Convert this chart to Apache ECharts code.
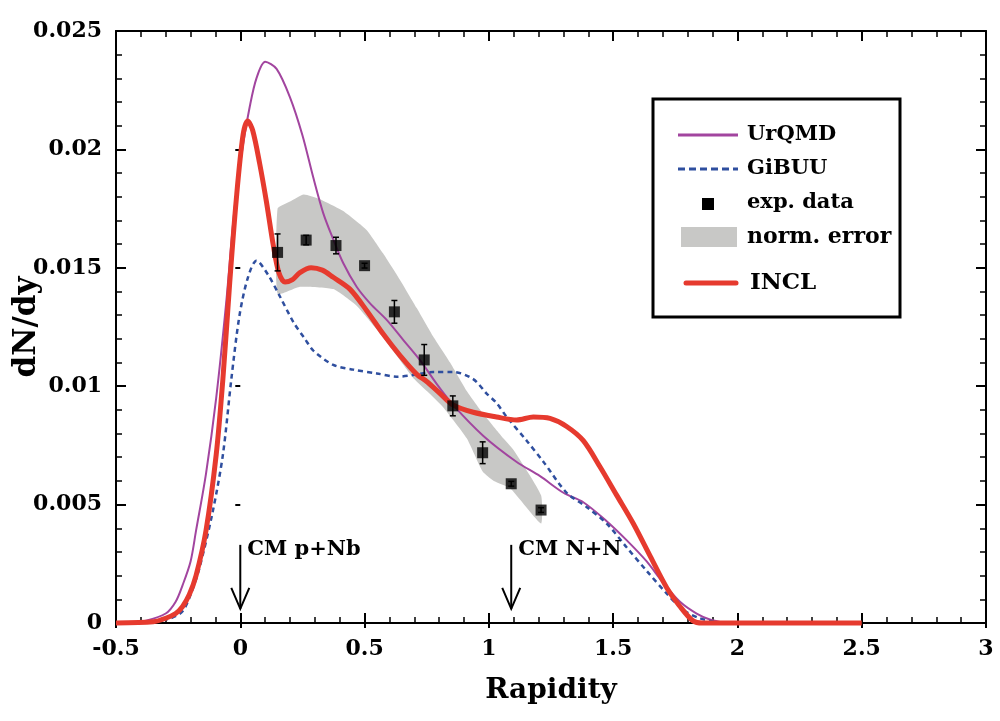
<!DOCTYPE html>
<html>
<head>
<meta charset="utf-8">
<script src="https://cdn.jsdelivr.net/npm/echarts@6.0.0/dist/echarts.min.js"></script>
<style>
html,body{margin:0;padding:0;background:#fff;}
#chart{width:1000px;height:721px;}
</style>
</head>
<body>
<div id="chart"></div>
<script>
// ---------------- data ----------------
const xTicks = [-0.5, 0, 0.5, 1, 1.5, 2, 2.5, 3];
const yTicks = [0, 0.005, 0.01, 0.015, 0.02, 0.025];

const urqmdX = [-0.45,-0.38,-0.3,-0.26,-0.232,-0.2,-0.178,-0.138,-0.097,-0.057,-0.023,0.011,0.038,0.065,0.1,0.146,0.2,0.25,0.294,0.334,0.374,0.414,0.468,0.522,0.589,0.656,0.723,0.79,0.857,0.978,1.112,1.206,1.3,1.38,1.474,1.554,1.635,1.701,1.769,1.836,1.889,1.95];
const urqmdY = [0,0.0001,0.0004,0.0009,0.0016,0.0026,0.0039,0.0063,0.0095,0.0135,0.0175,0.0202,0.0218,0.0230,0.0237,0.0234,0.0222,0.0206,0.0188,0.0173,0.0162,0.0152,0.0142,0.0135,0.0128,0.01195,0.0111,0.0101,0.0092,0.0079,0.0068,0.0062,0.0055,0.0051,0.0043,0.0035,0.0026,0.0017,0.0009,0.0004,0.00015,0];

const gibuuX = [-0.42,-0.34,-0.28,-0.232,-0.2,-0.165,-0.111,-0.07,-0.036,-0.003,0.031,0.065,0.112,0.159,0.214,0.26,0.294,0.374,0.455,0.549,0.629,0.696,0.776,0.857,0.937,0.99,1.03,1.072,1.152,1.22,1.313,1.393,1.474,1.554,1.635,1.715,1.782,1.849,1.93];
const gibuuY = [0,0.0001,0.0002,0.0005,0.0012,0.0023,0.0047,0.0071,0.0103,0.0130,0.0146,0.0153,0.0147,0.0138,0.0127,0.0120,0.0115,0.0109,0.0107,0.01054,0.0104,0.01047,0.0106,0.0106,0.0103,0.0097,0.0093,0.0087,0.0077,0.0068,0.0055,0.0049,0.0042,0.0032,0.0022,0.00125,0.00055,0.0002,0];

const inclX = [-0.5,-0.35,-0.3,-0.26,-0.232,-0.205,-0.178,-0.138,-0.097,-0.07,-0.043,-0.016,0.011,0.03,0.05,0.078,0.105,0.132,0.155,0.18,0.21,0.24,0.285,0.33,0.374,0.441,0.508,0.575,0.642,0.71,0.75,0.803,0.857,0.937,1.031,1.112,1.179,1.246,1.313,1.38,1.447,1.514,1.581,1.65,1.715,1.769,1.82,1.86,2.5];
const inclY = [0,0.00005,0.0002,0.0004,0.0007,0.0012,0.0020,0.0039,0.0071,0.0103,0.0143,0.0179,0.0206,0.0212,0.0208,0.0194,0.0178,0.0160,0.0148,0.0144,0.0145,0.0148,0.0150,0.0149,0.0146,0.0141,0.0132,0.0122,0.0113,0.0105,0.0102,0.0097,0.0092,0.0089,0.0087,0.00857,0.0087,0.00864,0.0083,0.0077,0.0066,0.0054,0.0042,0.0028,0.0015,0.0007,0.0001,0,0];

const expX = [0.15,0.265,0.385,0.50,0.62,0.74,0.855,0.975,1.09,1.21];
const expY = [0.01565,0.01617,0.01594,0.01509,0.01314,0.01111,0.00917,0.00719,0.00588,0.00477];
const expErr = [0.00078,0.0002,0.00035,0.0001,0.00048,0.00065,0.00042,0.00046,0.0001,0.0001];

const bandTopX = [0.15,0.2,0.255,0.32,0.414,0.508,0.575,0.642,0.71,0.776,0.844,0.911,0.98,1.05,1.1,1.21];
const bandTopY = [0.0175,0.0178,0.0181,0.0179,0.0174,0.0166,0.0156,0.0145,0.0133,0.0121,0.0110,0.0098,0.0088,0.0079,0.0073,0.0054];
const bandBotX = [0.15,0.24,0.374,0.468,0.549,0.629,0.7,0.76,0.817,0.911,0.975,1.02,1.085,1.21];
const bandBotY = [0.0139,0.0142,0.0141,0.0134,0.0124,0.0113,0.0103,0.0097,0.0091,0.0078,0.0064,0.0060,0.0057,0.0042];

const arrowX = [0, 1.09];
const arrowTopY = [0.0033, 0.0033];
const arrowTipY = [0.0006, 0.0006];
const arrowLabels = ['CM p+Nb', 'CM N+N'];

const legendNames = ['UrQMD', 'GiBUU', 'exp. data', 'norm. error', 'INCL'];

// ---------------- styles ----------------
const FONT = '"DejaVu Serif", "Liberation Serif", serif';
const C_RED = '#e63a2e', C_PUR = '#a2459f', C_BLU = '#2f4f9f', C_BAND = '#c8c8c6';

const zip = (a, b) => a.map((v, i) => [v, b[i]]);
const chart = echarts.init(document.getElementById('chart'), null, {renderer: 'canvas'});

function axisBase(pos, showLabel) {
  return {
    type: 'value', position: pos,
    axisLine: {show: true, onZero: false, lineStyle: {color: '#000', width: 2}},
    axisTick: {show: true, inside: true, length: 10, lineStyle: {color: '#000', width: 2}},
    minorTick: {show: true, splitNumber: 5, length: 6, lineStyle: {color: '#000', width: 1.5}},
    splitLine: {show: false}, minorSplitLine: {show: false},
    axisLabel: {show: showLabel, color: '#000', fontFamily: FONT, fontWeight: 'bold', fontSize: 22}
  };
}
function outerTicks(pos) {
  return {
    type: 'value', position: pos,
    axisLine: {show: false},
    axisTick: {show: true, inside: false, length: 5, lineStyle: {color: '#000', width: 2}},
    splitLine: {show: false}, axisLabel: {show: false}
  };
}
const xr = {min: xTicks[0], max: xTicks[xTicks.length - 1], interval: xTicks[1] - xTicks[0]};
const yr = {min: yTicks[0], max: yTicks[yTicks.length - 1], interval: yTicks[1] - yTicks[0]};

const xMain = Object.assign(axisBase('bottom', true), xr, {
  name: 'Rapidity', nameLocation: 'middle', nameGap: 54, nameMoveOverlap: false,
  nameTextStyle: {color: '#000', fontFamily: FONT, fontWeight: 'bold', fontSize: 28}
});
xMain.axisLabel.margin = 15;
const yMain = Object.assign(axisBase('left', true), yr, {
  name: 'dN/dy', nameLocation: 'middle', nameGap: 74, nameMoveOverlap: false,
  nameTextStyle: {color: '#000', fontFamily: FONT, fontWeight: 'bold', fontSize: 31}
});
yMain.axisLabel.margin = 14;

const lineCommon = {showSymbol: false, clip: false, smooth: 0.3};

const option = {
  animation: false,
  backgroundColor: '#fff',
  grid: {left: 116, right: 14, top: 31, bottom: 98, show: false, containLabel: false, outerBoundsMode: 'none'},
  xAxis: [xMain, Object.assign(axisBase('top', false), xr), Object.assign(outerTicks('bottom'), xr)],
  yAxis: [yMain, Object.assign(axisBase('right', false), yr), Object.assign(outerTicks('left'), yr)],
  series: [
    {
      name: 'norm. error', type: 'custom', z: 1, silent: true,
      data: [[bandTopX[0], bandTopY[0]]],
      renderItem: function (params, api) {
        const pts = zip(bandTopX, bandTopY).map(p => api.coord(p))
          .concat(zip(bandBotX, bandBotY).reverse().map(p => api.coord(p)));
        return {type: 'polygon', shape: {points: pts, smooth: 0.15}, style: {fill: C_BAND}};
      }
    },
    Object.assign({
      name: 'UrQMD', type: 'line', z: 3,
      lineStyle: {color: C_PUR, width: 2}, data: zip(urqmdX, urqmdY)
    }, lineCommon),
    Object.assign({
      name: 'GiBUU', type: 'line', z: 3,
      lineStyle: {color: C_BLU, width: 2.5, type: [5, 4]}, data: zip(gibuuX, gibuuY)
    }, lineCommon),
    Object.assign({
      name: 'INCL', type: 'line', z: 4,
      lineStyle: {color: C_RED, width: 5}, data: zip(inclX, inclY)
    }, lineCommon),
    {
      name: 'exp. data err', type: 'custom', z: 5, silent: true,
      data: expX.map((x, i) => [x, expY[i], expErr[i]]),
      renderItem: function (params, api) {
        const x = api.value(0), y = api.value(1), e = api.value(2);
        const t = api.coord([x, y + e]), b = api.coord([x, y - e]);
        const st = {stroke: '#000', lineWidth: 1.5};
        return {type: 'group', children: [
          {type: 'line', shape: {x1: t[0], y1: t[1], x2: b[0], y2: b[1]}, style: st},
          {type: 'line', shape: {x1: t[0] - 3, y1: t[1], x2: t[0] + 3, y2: t[1]}, style: st},
          {type: 'line', shape: {x1: b[0] - 3, y1: b[1], x2: b[0] + 3, y2: b[1]}, style: st}
        ]};
      }
    },
    {
      name: 'exp. data', type: 'scatter', z: 6, symbol: 'rect', symbolSize: 11,
      itemStyle: {color: '#000'}, data: zip(expX, expY)
    },
    {
      name: 'CM markers', type: 'custom', z: 6, silent: true,
      data: arrowX.map((x, i) => [x, arrowTopY[i], arrowTipY[i], i]),
      renderItem: function (params, api) {
        const x = api.value(0);
        const p1 = api.coord([x, api.value(1)]), p2 = api.coord([x, api.value(2)]);
        const st = {stroke: '#000', lineWidth: 2, fill: null};
        return {type: 'group', children: [
          {type: 'line', shape: {x1: p1[0], y1: p1[1], x2: p2[0], y2: p2[1]}, style: st},
          {type: 'polyline', shape: {points: [[p2[0] - 9, p2[1] - 21], [p2[0], p2[1]], [p2[0] + 9, p2[1] - 21]]}, style: st},
          {type: 'text', x: p1[0] + 7, y: p1[1] - 6, style: {
            text: arrowLabels[api.value(3)], fill: '#000', font: 'bold 21px ' + FONT,
            textAlign: 'left', textVerticalAlign: 'top'}}
        ]};
      }
    }
  ],
  graphic: [
    {type: 'rect', z: 100, shape: {x: 653, y: 99, width: 247, height: 218},
      style: {fill: '#fff', stroke: '#000', lineWidth: 3}},
    {type: 'line', z: 101, shape: {x1: 678, y1: 135, x2: 738, y2: 135}, style: {stroke: C_PUR, lineWidth: 3}},
    {type: 'line', z: 101, shape: {x1: 678, y1: 169, x2: 738, y2: 169}, style: {stroke: C_BLU, lineWidth: 3, lineDash: [7, 4]}},
    {type: 'rect', z: 101, shape: {x: 702, y: 198, width: 12, height: 12}, style: {fill: '#000'}},
    {type: 'rect', z: 101, shape: {x: 681, y: 227, width: 56, height: 20}, style: {fill: C_BAND}},
    {type: 'line', z: 101, shape: {x1: 686, y1: 283, x2: 736, y2: 283}, style: {stroke: C_RED, lineWidth: 5, lineCap: 'round'}},
    {type: 'text', z: 101, x: 747, y: 135, style: {text: legendNames[0], fill: '#000', font: 'bold 21px ' + FONT, textVerticalAlign: 'middle'}},
    {type: 'text', z: 101, x: 747, y: 169, style: {text: legendNames[1], fill: '#000', font: 'bold 21px ' + FONT, textVerticalAlign: 'middle'}},
    {type: 'text', z: 101, x: 747, y: 203, style: {text: legendNames[2], fill: '#000', font: 'bold 21px ' + FONT, textVerticalAlign: 'middle'}},
    {type: 'text', z: 101, x: 747, y: 237, style: {text: legendNames[3], fill: '#000', font: 'bold 22px ' + FONT, textVerticalAlign: 'middle'}},
    {type: 'text', z: 101, x: 750, y: 283, style: {text: legendNames[4], fill: '#000', font: 'bold 23px ' + FONT, textVerticalAlign: 'middle'}}
  ]
};
chart.setOption(option);
</script>
</body>
</html>
